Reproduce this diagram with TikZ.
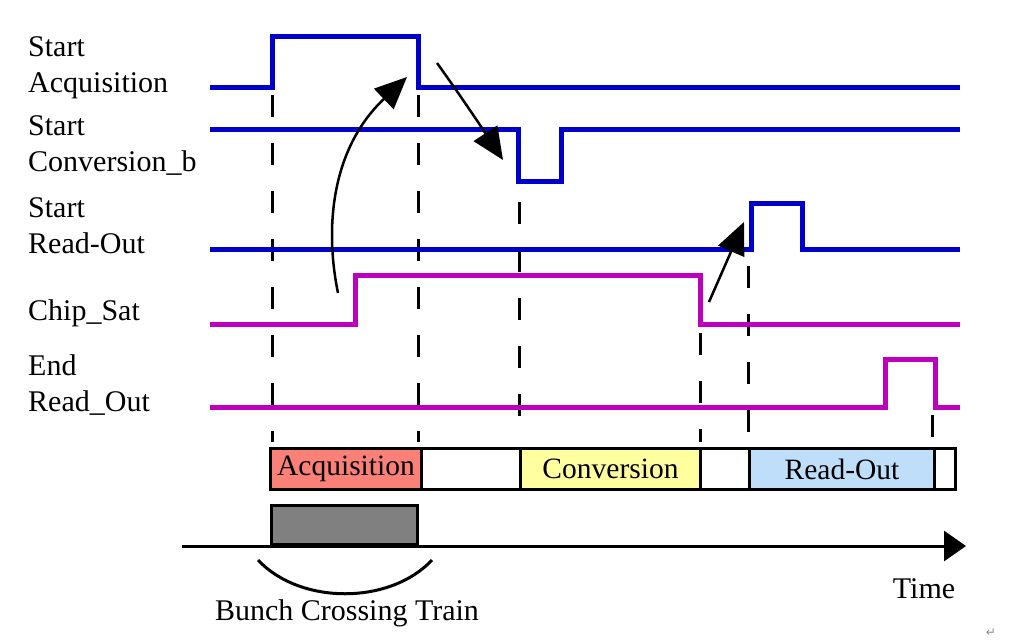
\documentclass[tikz,border=0pt]{standalone}
\usepackage{fontspec}
\setmainfont{Liberation Serif}
\newfontfamily\symfont{DejaVu Sans}
\usetikzlibrary{arrows.meta}
\definecolor{sigblue}{RGB}{0,0,200}
\definecolor{sigmag}{RGB}{190,0,190}
\definecolor{acqred}{RGB}{250,128,120}
\definecolor{convyel}{RGB}{255,255,160}
\definecolor{roblue}{RGB}{190,222,250}
\definecolor{bcgray}{RGB}{128,128,128}
\tikzset{
  bluesig/.style={draw=sigblue, line width=5pt, line join=miter},
  magsig/.style={draw=sigmag, line width=5pt, line join=miter},
  guide/.style={draw=black, line width=3pt, dash pattern=on 22pt off 26pt},
  lbl/.style={anchor=west, align=left, inner sep=0pt, font=\fontsize{30}{36}\selectfont},
  phase/.style={draw=black, line width=3pt, minimum height=41pt, inner sep=0pt, anchor=north west, font=\fontsize{29.5}{34}\selectfont},
  trig/.style={draw=black, line width=2.5pt, -{Triangle[length=32pt,width=28pt]}},
}
\begin{document}
\begin{tikzpicture}[x=1pt,y=-1pt]
\useasboundingbox[fill=white] (0,0) rectangle (1014,642);
% labels
\node[lbl] (lsa) at (28,68) {Start\\Acquisition};
\node[lbl] (lsc) at (28,146) {Start\\Conversion\_b};
\node[lbl] (lsr) at (28,226) {Start\\Read-Out};
\node[lbl] (lcs) at (28,313) {Chip\_Sat};
\node[lbl] (ler) at (28,385) {End\\Read\_Out};
% dashed guides
\draw[guide] (272,95) -- (272,442);
\draw[guide] (418,95) -- (418,442);
\draw[guide] (519,202) -- (519,442);
\draw[guide] (700,333) -- (700,442);
\draw[guide] (748,266) -- (748,445);
\draw[guide] (932,415) -- (932,442);
% signals
\draw[bluesig] (210,87) -- (272,87) -- (272,37) -- (418,37) -- (418,87) -- (960,87);
\draw[bluesig] (210,129) -- (518,129) -- (518,181) -- (561,181) -- (561,129) -- (960,129);
\draw[bluesig] (210,249) -- (751,249) -- (751,203) -- (802,203) -- (802,249) -- (960,249);
\draw[magsig] (210,324) -- (355,324) -- (355,275) -- (700,275) -- (700,324) -- (960,324);
\draw[magsig] (210,407) -- (885,407) -- (885,359) -- (935,359) -- (935,407) -- (960,407);
% trigger arrows
\coordinate (a1s) at (338,293);
\coordinate (a1e) at (407,77);
\coordinate (a2s) at (437,63);
\coordinate (a2e) at (503,160);
\coordinate (a3s) at (709,302);
\coordinate (a3e) at (744,222);
\draw[trig] (a1s) .. controls (325,230) and (330,150) .. (a1e);
\draw[trig] (a2s) .. controls (460,95) and (480,125) .. (a2e);
\draw[trig] (a3s) -- (a3e);
% phase boxes
\node[phase, fill=acqred, minimum width=151pt] (pacq) at (269,447) {Acquisition};
\node[phase, fill=white, minimum width=99pt] (pg1) at (420,447) {};
\node[phase, fill=convyel, minimum width=180pt] (pconv) at (519,447) {Conversion};
\node[phase, fill=white, minimum width=49pt] (pg2) at (699,447) {};
\node[phase, fill=roblue, minimum width=185pt] (pro) at (748,447) {Read-Out};
\node[phase, fill=white, minimum width=21pt] (pg3) at (933,447) {};
% bunch crossing
\node[draw=black, line width=3pt, fill=bcgray, minimum width=146pt, minimum height=39pt, inner sep=0pt, anchor=south west] (bct) at (270,546) {};
\coordinate (ax0) at (182,546);
\coordinate (ax1) at (966,546);
\draw[line width=3pt, -{Triangle[length=22pt,width=30pt]}] (ax0) -- (ax1);
\coordinate (arcL) at (258,560);
\coordinate (arcR) at (432,560);
\draw[line width=3pt] (arcL) .. controls (300,605) and (390,605) .. (arcR);
\node[lbl, anchor=center] (tbct) at (347,613) {Bunch Crossing Train};
\node[lbl, anchor=center] (ttime) at (924,589) {Time};
\node[inner sep=0pt, text=black!45, font=\symfont\fontsize{12}{12}\selectfont] (pmark) at (991,633) {↵};
\end{tikzpicture}
\end{document}
